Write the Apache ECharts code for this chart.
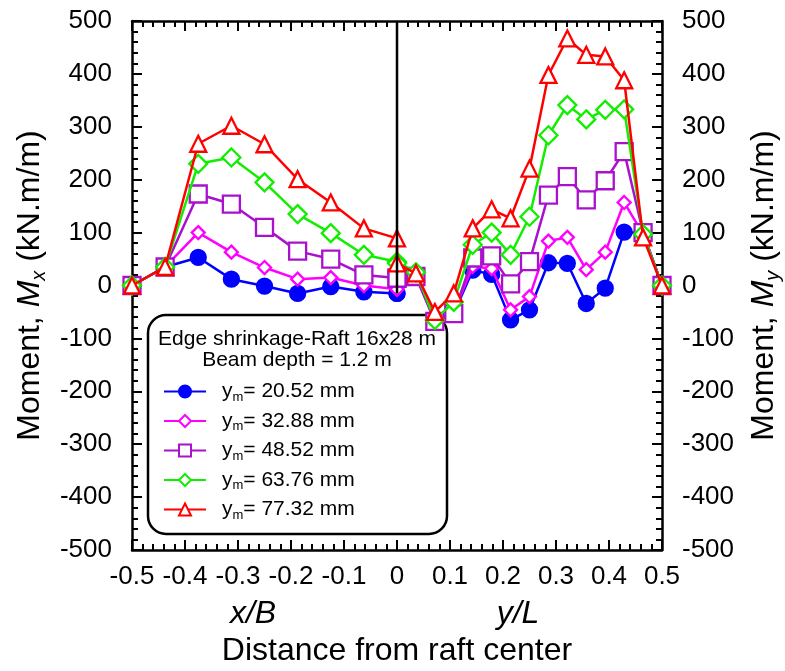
<!DOCTYPE html>
<html>
<head>
<meta charset="utf-8">
<script src="https://cdn.jsdelivr.net/npm/echarts@6/dist/echarts.min.js"></script>
<style>
  html, body { margin: 0; padding: 0; background: #fff; }
  #chart { width: 785px; height: 671px; }
</style>
</head>
<body>
<div id="chart"></div>
<script>
// Positions across the raft: x/B on the left half (B = 16 m), y/L on the right half (L = 28 m)
var xLeft = [-0.5, -0.4375, -0.375, -0.3125, -0.25, -0.1875, -0.125, -0.0625, 0];
var xRight = [0, 0.0357, 0.0714, 0.1071, 0.1429, 0.1786, 0.2143, 0.25, 0.2857,
              0.3214, 0.3571, 0.3929, 0.4286, 0.4643, 0.5];

// Series labels (maximum differential settlement y_m)
var seriesNames = ['20.52 mm', '32.88 mm', '48.52 mm', '63.76 mm', '77.32 mm'];

// Moment Mx (kN.m/m) along x/B
var mxBlue    = [0, 35, 53, 12, -1, -15, -2, -12, -15];
var mxMagenta = [0, 35, 100, 63, 34, 12, 15, 0, -7];
var mxPurple  = [0, 35, 173, 154, 110, 65, 50, 20, 14];
var mxGreen   = [0, 35, 230, 242, 195, 135, 99, 58, 45];
var mxRed     = [0, 35, 268, 302, 267, 201, 157, 108, 89];

// Moment My (kN.m/m) along y/L
var myBlue    = [-15, 18, -65, -53, 29, 21, -65, -46, 43, 42, -34, -5, 101, 99, 0];
var myMagenta = [-7, 20, -65, -50, 36, 32, -46, -21, 84, 91, 30, 63, 157, 97, 0];
var myPurple  = [14, 17, -68, -53, 52, 56, 3, 45, 171, 206, 162, 198, 253, 100, 0];
var myGreen   = [42, 25, -65, -31, 77, 100, 58, 130, 284, 341, 314, 332, 333, 97, 0];
var myRed     = [42, 23, -50, -15, 108, 144, 127, 221, 398, 467, 436, 433, 388, 91, 0];

// Vertical divider at the raft center
var centerLine = [[0, 500], [0, -15]];

// Axis ticks
var xTicks = { min: -0.5, max: 0.5, step: 0.1 };
var yTicks = { min: -500, max: 500, step: 100 };

var FONT = '"Liberation Sans", Arial, sans-serif';

function pairs(xs, ys) {
  return xs.map(function (x, i) { return [x, ys[i]]; });
}

var styles = [
  { color: '#0000FF', symbol: 'circle', size: 15, fill: '#0000FF' },
  { color: '#FF00FF', symbol: 'diamond', size: 13, fill: '#FFFFFF' },
  { color: '#AA11CC', symbol: 'rect', size: 17, fill: '#FFFFFF' },
  { color: '#11EE00', symbol: 'diamond', size: 18, fill: '#FFFFFF' },
  { color: '#FF0000', symbol: 'triangle', size: 16, fill: '#FFFFFF' }
];
var leftSets = [mxBlue, mxMagenta, mxPurple, mxGreen, mxRed];
var rightSets = [myBlue, myMagenta, myPurple, myGreen, myRed];

var series = seriesNames.map(function (name, i) {
  var s = styles[i];
  return {
    name: name,
    type: 'line',
    data: pairs(xLeft, leftSets[i]).concat(pairs(xRight, rightSets[i])),
    symbol: s.symbol,
    symbolSize: s.size,
    showAllSymbol: true,
    lineStyle: { color: s.color, width: 2.5 },
    itemStyle: { color: s.fill, borderColor: s.color, borderWidth: 2.3 },
    z: 3 + i,
    animation: false
  };
});

series.push({
  name: 'center',
  type: 'line',
  data: centerLine,
  symbol: 'none',
  lineStyle: { color: '#000', width: 2.5 },
  z: 10,
  silent: true,
  animation: false
});

function xAxisDef(pos, showLabels) {
  return {
    type: 'value',
    position: pos,
    min: xTicks.min, max: xTicks.max, interval: xTicks.step,
    axisLine: { show: true, onZero: false, lineStyle: { color: '#000', width: 2.5 } },
    axisTick: { show: true, inside: true, length: 10, lineStyle: { color: '#000', width: 2 } },
    minorTick: { show: true, splitNumber: 5, length: 6, lineStyle: { color: '#000', width: 2 } },
    splitLine: { show: false },
    axisLabel: { show: showLabels, margin: 14, fontFamily: FONT, fontSize: 26, color: '#000' }
  };
}

function yAxisDef(pos, sub, gap) {
  return {
    type: 'value',
    position: pos,
    min: yTicks.min, max: yTicks.max, interval: yTicks.step,
    axisLine: { show: true, onZero: false, lineStyle: { color: '#000', width: 2.5 } },
    axisTick: { show: true, inside: true, length: 10, lineStyle: { color: '#000', width: 2 } },
    minorTick: { show: true, splitNumber: 5, length: 6, lineStyle: { color: '#000', width: 2 } },
    splitLine: { show: false },
    axisLabel: { margin: 20, fontFamily: FONT, fontSize: 26, color: '#000' },
    name: '{n|Moment, }{i|M}{s|' + sub + '}{n| (kN.m/m)}',
    nameLocation: 'middle',
    nameRotate: 90,
    nameGap: gap,
    nameTextStyle: {
      rich: {
        n: { fontFamily: FONT, fontSize: 32, color: '#000', lineHeight: 38 },
        i: { fontFamily: FONT, fontSize: 32, fontStyle: 'italic', color: '#000', lineHeight: 38 },
        s: { fontFamily: FONT, fontSize: 20, fontStyle: 'italic', color: '#000', lineHeight: 20, verticalAlign: 'bottom' }
      }
    }
  };
}

var chart = echarts.init(document.getElementById('chart'), null, { renderer: 'canvas' });

chart.setOption({
  backgroundColor: '#fff',
  animation: false,
  grid: { left: 132, right: 123, top: 21, bottom: 121, containLabel: false, outerBoundsMode: 'none' },
  xAxis: [
    Object.assign(xAxisDef('bottom', true), {
      name: 'Distance from raft center',
      nameLocation: 'middle',
      nameGap: 85,
      nameTextStyle: { fontFamily: FONT, fontSize: 32, color: '#000' }
    }),
    xAxisDef('top', false)
  ],
  yAxis: [yAxisDef('left', 'x', 78), yAxisDef('right', 'y', 83)],
  legend: {
    data: seriesNames,
    orient: 'vertical',
    left: 158,
    top: 376,
    itemWidth: 42,
    itemHeight: 15,
    itemGap: 7,
    selectedMode: false,
    formatter: function (name) { return '{a|y}{s|m}{a|= ' + name + '}'; },
    textStyle: {
      padding: [0, 0, 0, 11],
      rich: {
        a: { fontFamily: FONT, fontSize: 21, color: '#000', lineHeight: 24 },
        s: { fontFamily: FONT, fontSize: 13, color: '#000', lineHeight: 13, verticalAlign: 'bottom' }
      }
    }
  },
  graphic: [
    {
      type: 'rect',
      z: 0,
      shape: { x: 148, y: 315, width: 299, height: 219, r: 18 },
      style: { fill: '#fff', stroke: '#000', lineWidth: 2.5 }
    },
    {
      type: 'text',
      z: 1,
      x: 297, y: 339,
      style: { text: 'Edge shrinkage-Raft 16x28 m', fontFamily: FONT, fontSize: 21,
               fill: '#000', align: 'center', verticalAlign: 'middle' }
    },
    {
      type: 'text',
      z: 1,
      x: 297, y: 360,
      style: { text: 'Beam depth = 1.2 m', fontFamily: FONT, fontSize: 21,
               fill: '#000', align: 'center', verticalAlign: 'middle' }
    },
    {
      type: 'text',
      x: 253, y: 614,
      style: { text: 'x/B', fontFamily: FONT, fontSize: 32, fontStyle: 'italic',
               fill: '#000', align: 'center', verticalAlign: 'middle' }
    },
    {
      type: 'text',
      x: 518, y: 614,
      style: { text: 'y/L', fontFamily: FONT, fontSize: 32, fontStyle: 'italic',
               fill: '#000', align: 'center', verticalAlign: 'middle' }
    }
  ],
  series: series
});
</script>
</body>
</html>
